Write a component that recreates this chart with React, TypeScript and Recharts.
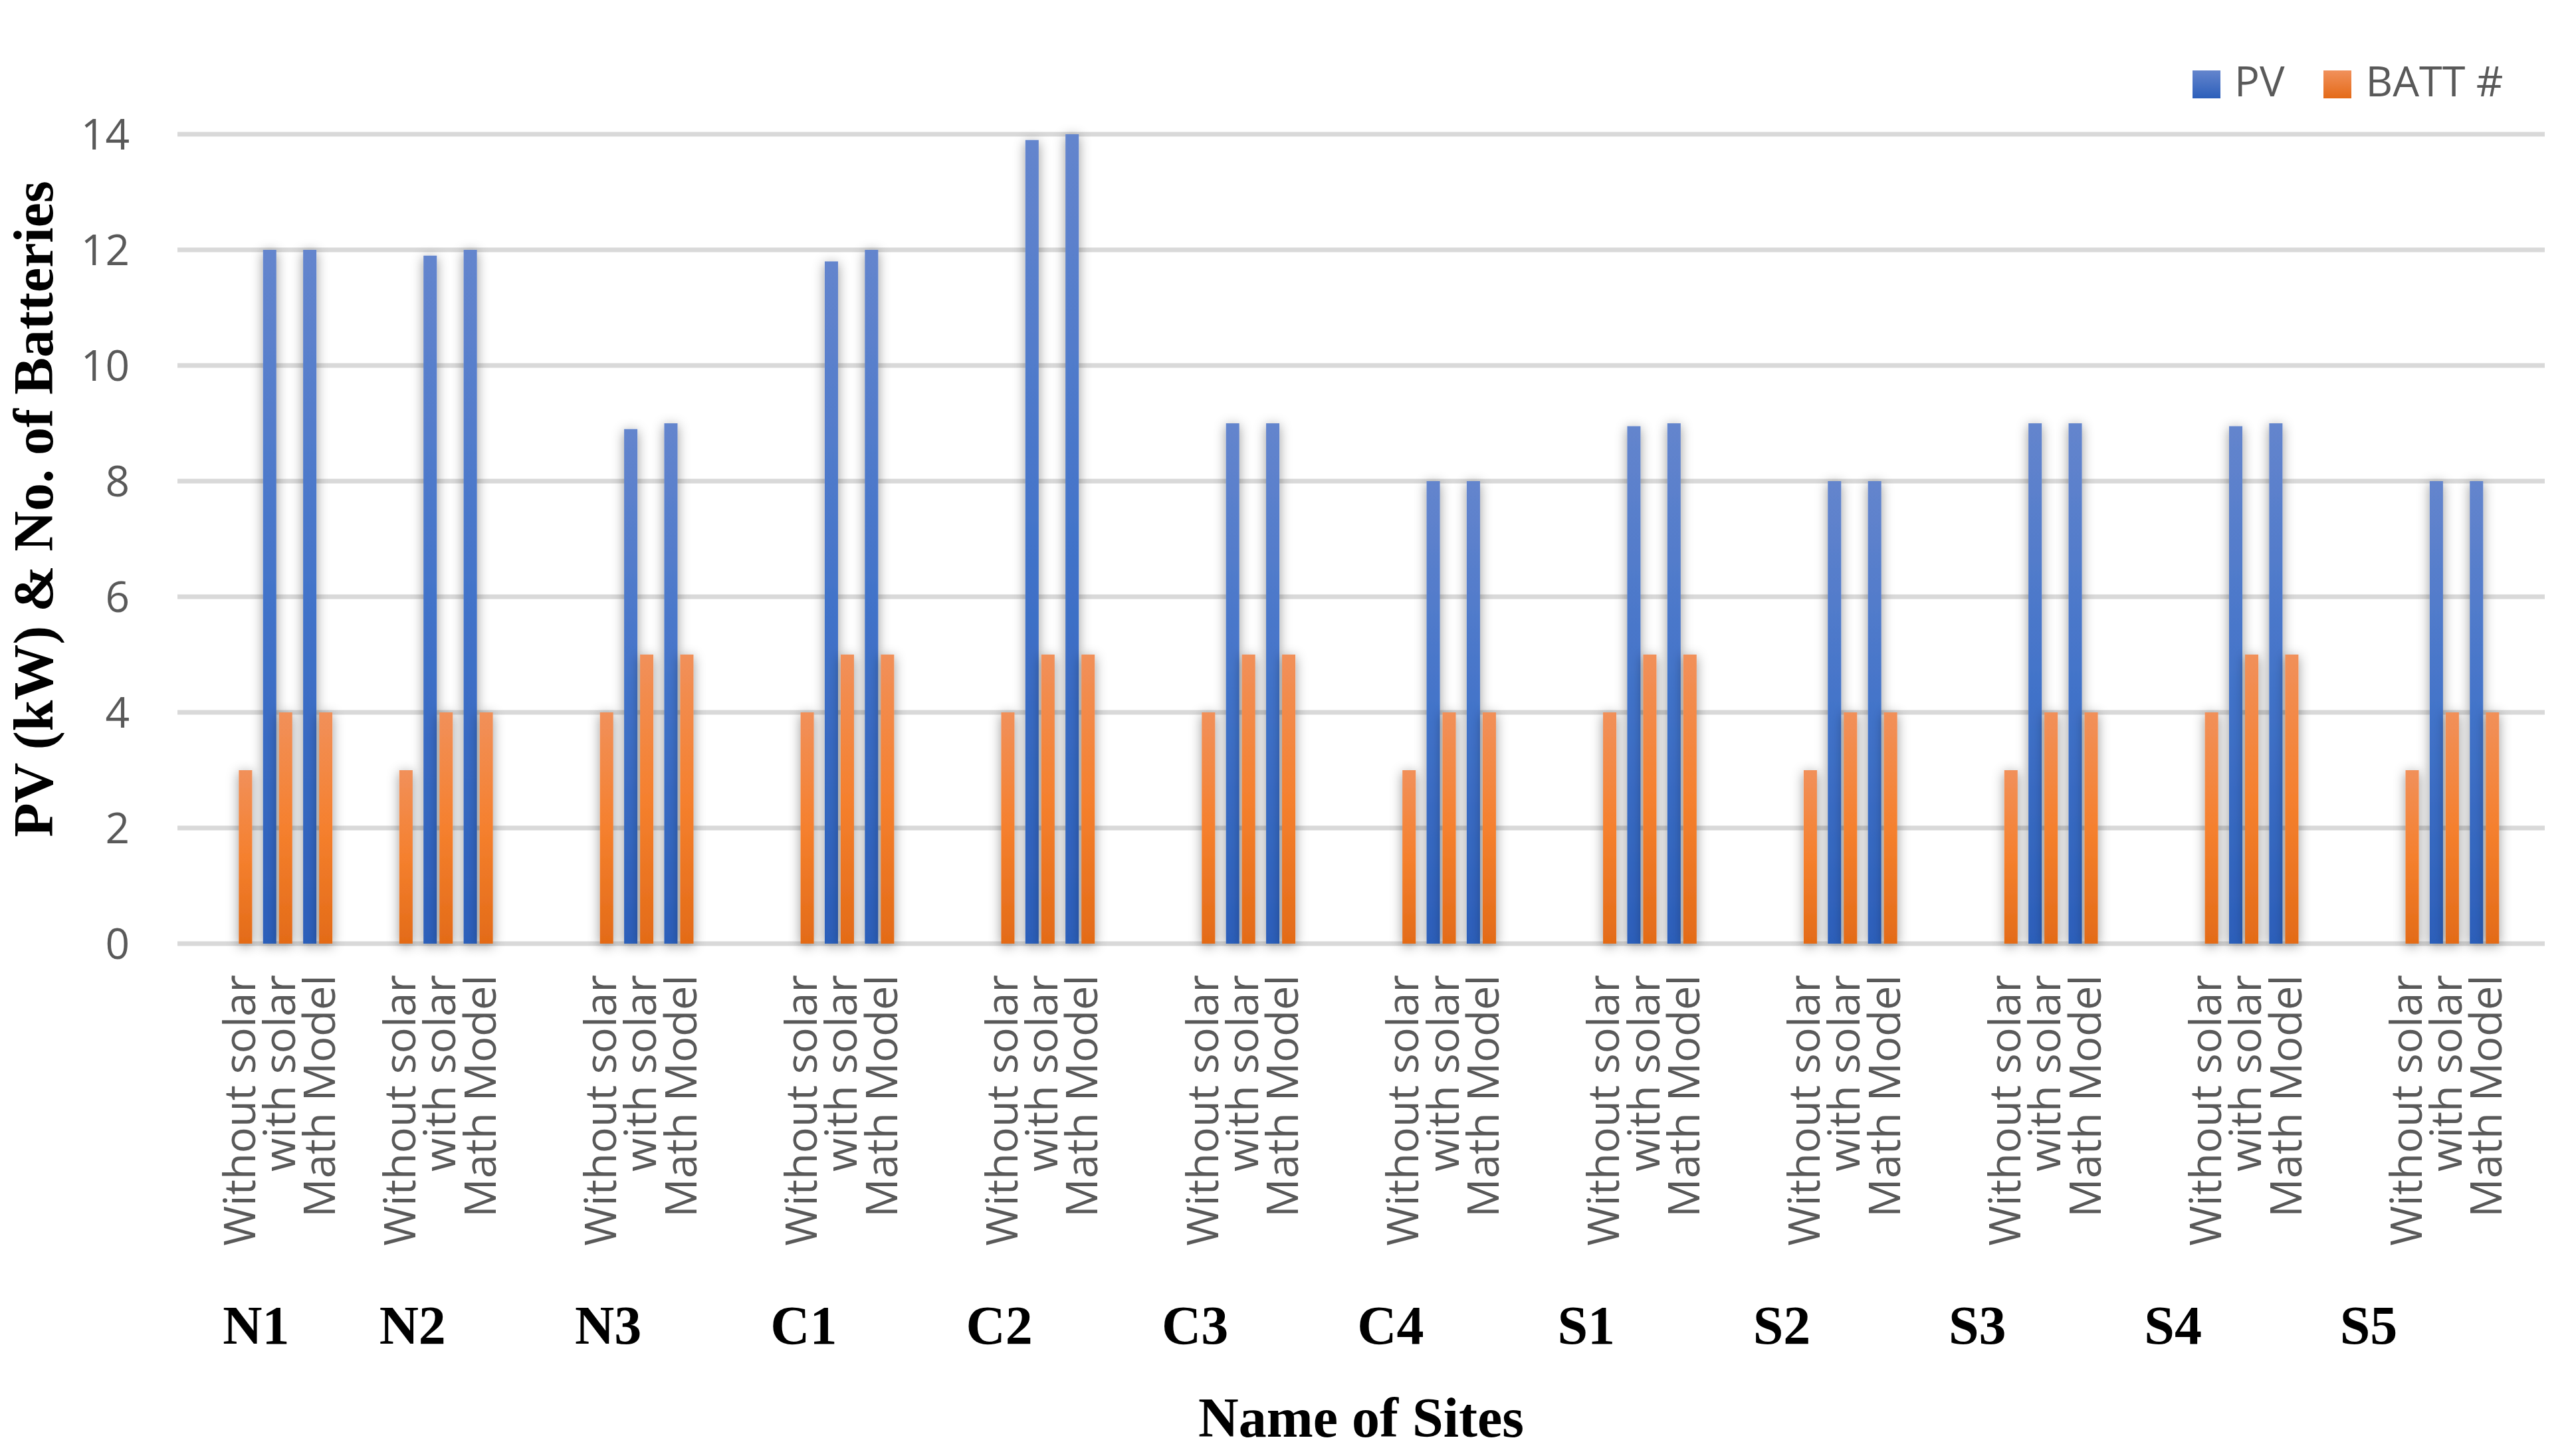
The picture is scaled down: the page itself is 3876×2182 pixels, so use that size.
import { BarChart, Bar, XAxis, YAxis, CartesianGrid, Legend } from "recharts";

// sites along the axis, three scenarios each
const sites = ["N1", "N2", "N3", "C1", "C2", "C3", "C4", "S1", "S2", "S3", "S4", "S5"];
const scenarios = ["Without solar", "with solar", "Math Model"];

// PV size (kW)
const pvWithoutSolar = [0, 0, 0, 0, 0, 0, 0, 0, 0, 0, 0, 0];
const pvWithSolar = [12, 11.9, 8.9, 11.8, 13.9, 9, 8, 8.95, 8, 9, 8.95, 8];
const pvMathModel = [12, 12, 9, 12, 14, 9, 8, 9, 8, 9, 9, 8];

// number of batteries
const battWithoutSolar = [3, 3, 4, 4, 4, 4, 3, 4, 3, 3, 4, 3];
const battWithSolar = [4, 4, 5, 5, 5, 5, 4, 5, 4, 4, 5, 4];
const battMathModel = [4, 4, 5, 5, 5, 5, 4, 5, 4, 4, 5, 4];

// empty category rows in the sheet before each site, and after the last one
const blanksBefore = [1, 1, 2, 2, 2, 2, 2, 2, 2, 2, 2, 2];
const blanksAfter = 1;

const yTicks = [0, 2, 4, 6, 8, 10, 12, 14];

type Row = {
  id: string;
  scenario: string;
  site: string;
  pv: number | null;
  batt: number | null;
};

const pvBySc = [pvWithoutSolar, pvWithSolar, pvMathModel];
const battBySc = [battWithoutSolar, battWithSolar, battMathModel];

const rows: Row[] = [];
sites.forEach((site, i) => {
  for (let b = 0; b < blanksBefore[i]; b++) {
    rows.push({ id: `gap-${i}-${b}`, scenario: "", site: "", pv: null, batt: null });
  }
  scenarios.forEach((scenario, j) => {
    rows.push({
      id: `${site}-${j}`,
      scenario,
      site: j === 0 ? site : "",
      pv: pvBySc[j][i],
      batt: battBySc[j][i],
    });
  });
});
for (let b = 0; b < blanksAfter; b++) {
  rows.push({ id: `gap-end-${b}`, scenario: "", site: "", pv: null, batt: null });
}

const SANS = "'Open Sans', 'Noto Sans', sans-serif";
const SERIF = "'Liberation Serif', 'Times New Roman', serif";
const GREY = "#595959";

const legendOrder = ["pv", "batt"];
const legendSwatch: Record<string, string> = {
  pv: "linear-gradient(#6485CD, #2C5FBA)",
  batt: "linear-gradient(#F1915C, #E46A17)",
};

const ShadowBar = (props: any) => {
  const { x, y, width, height, fill } = props;
  if (!height || height <= 0) return <g />;
  return (
    <rect x={x} y={y} width={width} height={height} fill={fill} filter="url(#barShadow)" />
  );
};

const ScenarioTick = (props: any) => {
  const { x, y, payload } = props;
  const row = rows.find((r) => r.id === payload.value);
  if (!row || !row.scenario) return <g />;
  return (
    <text
      transform={`translate(${x},${y}) rotate(-90)`}
      textAnchor="end"
      dy={26}
      fontFamily={SANS}
      fontSize={65}
      fill={GREY}
    >
      {row.scenario}
    </text>
  );
};

// site names sit in text boxes under each group, a little tighter than the bars
const SiteTick = (props: any) => {
  const { x, y, payload } = props;
  const row = rows.find((r) => r.id === payload.value);
  if (!row || !row.site) return <g />;
  return (
    <text
      x={x}
      y={y + 102}
      textAnchor="middle"
      fontFamily={SERIF}
      fontWeight="bold"
      fontSize={82}
      fill="#000"
    >
      {row.site}
    </text>
  );
};

const YTitle = (props: any) => {
  const vb = props.viewBox || { x: 0, y: 0, width: 0, height: 0 };
  const cx = vb.x + 79;
  const cy = vb.y + vb.height / 2 - 45;
  return (
    <text
      transform={`translate(${cx},${cy}) rotate(-90)`}
      textAnchor="middle"
      fontFamily={SERIF}
      fontWeight="bold"
      fontSize={84}
      fill="#000"
    >
      PV (kW) &amp; No. of Batteries
    </text>
  );
};

const LegendContent = (props: any) => {
  const items = [...(props.payload || [])].sort(
    (a: any, b: any) => legendOrder.indexOf(a.dataKey) - legendOrder.indexOf(b.dataKey)
  );
  return (
    <div style={{ display: "flex", alignItems: "flex-start" }}>
      {items.map((it: any, i: number) => (
        <div
          key={it.value}
          style={{ display: "flex", alignItems: "flex-start", marginLeft: i === 0 ? 0 : 59 }}
        >
          <div
            style={{
              width: 42,
              height: 42,
              marginTop: 17,
              marginRight: 21,
              background: legendSwatch[it.dataKey] || it.color,
            }}
          />
          <span
            style={{
              fontFamily: SANS,
              fontSize: 63,
              lineHeight: "64px",
              color: GREY,
              whiteSpace: "nowrap",
            }}
          >
            {it.value}
          </span>
        </div>
      ))}
    </div>
  );
};

export default function App() {
  return (
    <div style={{ position: "absolute", left: 0, top: 0, width: 3876, height: 2182, background: "#fff" }}>
      <BarChart
        width={3876}
        height={2182}
        data={rows}
        margin={{ top: 202, right: 47, left: 0, bottom: 0 }}
        barSize={20}
        barGap={4}
      >
        <defs>
          <linearGradient id="pvGrad" x1="0" y1="0" x2="0" y2="1">
            <stop offset="0%" stopColor="#6485CD" />
            <stop offset="50%" stopColor="#4273C9" />
            <stop offset="100%" stopColor="#2C5FBA" />
          </linearGradient>
          <linearGradient id="battGrad" x1="0" y1="0" x2="0" y2="1">
            <stop offset="0%" stopColor="#F1905A" />
            <stop offset="50%" stopColor="#F5802E" />
            <stop offset="100%" stopColor="#E36B18" />
          </linearGradient>
          <filter id="barShadow" x="-200%" y="-20%" width="500%" height="140%">
            <feDropShadow dx="0" dy="3" stdDeviation="9" floodColor="#000" floodOpacity="0.4" />
          </filter>
        </defs>
        <CartesianGrid vertical={false} stroke="#D9D9D9" strokeWidth={7} />
        <XAxis
          dataKey="id"
          interval={0}
          height={500}
          axisLine={false}
          tickLine={false}
          tickSize={0}
          tickMargin={47}
          tick={<ScenarioTick />}
        />
        <XAxis
          xAxisId="site"
          dataKey="id"
          interval={0}
          height={262}
          padding={{ left: 30, right: 59 }}
          axisLine={false}
          tickLine={false}
          tickSize={0}
          tickMargin={0}
          tick={<SiteTick />}
          label={{
            value: "Name of Sites",
            position: "insideBottom",
            offset: 20,
            fontFamily: SERIF,
            fontWeight: "bold",
            fontSize: 84,
            fill: "#000",
          }}
        />
        <YAxis
          width={267}
          domain={[0, 14]}
          ticks={yTicks}
          axisLine={false}
          tickLine={false}
          tickSize={0}
          tickMargin={72}
          tick={{ fontFamily: SANS, fontSize: 64, fill: GREY }}
          label={<YTitle />}
        />
        <Legend
          layout="horizontal"
          verticalAlign="middle"
          align="center"
          content={<LegendContent />}
          wrapperStyle={{ left: 3299, top: 89, width: 560, height: 70 }}
        />
        <Bar dataKey="pv" name="PV" fill="url(#pvGrad)" shape={<ShadowBar />} isAnimationActive={false} />
        <Bar dataKey="batt" name="BATT #" fill="url(#battGrad)" shape={<ShadowBar />} isAnimationActive={false} />
      </BarChart>
    </div>
  );
}
